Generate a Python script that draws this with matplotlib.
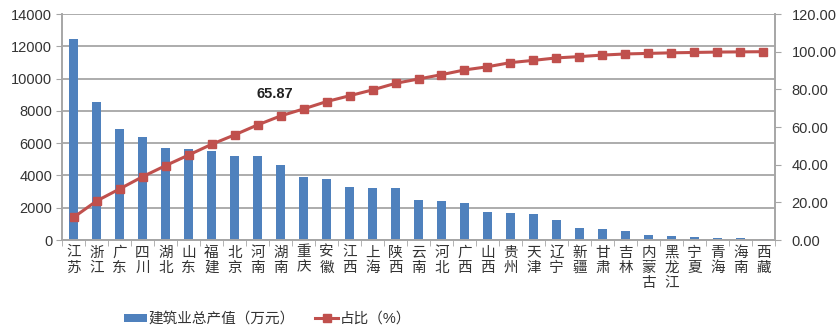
import matplotlib.pyplot as plt
import numpy as np

plt.rcParams['font.family'] = ['Liberation Sans', 'Noto Sans CJK SC']
plt.rcParams['text.color'] = '#333333'
plt.rcParams['xtick.labelcolor'] = '#333333'
plt.rcParams['ytick.labelcolor'] = '#333333'

provinces = ['江苏', '浙江', '广东', '四川', '湖北', '山东', '福建', '北京', '河南', '湖南',
             '重庆', '安徽', '江西', '上海', '陕西', '云南', '河北', '广西', '山西', '贵州',
             '天津', '辽宁', '新疆', '甘肃', '吉林', '内蒙古', '黑龙江', '宁夏', '青海', '海南', '西藏']
output = [12430, 8570, 6860, 6400, 5680, 5660, 5530, 5225, 5220, 4625,
          3880, 3760, 3280, 3240, 3200, 2460, 2400, 2270, 1735, 1650,
          1630, 1260, 760, 700, 540, 310, 270, 165, 120, 110, 40]
share = [12.0, 20.7, 27.1, 33.6, 39.5, 45.1, 50.8, 55.8, 61.1, 65.87,
         69.6, 73.5, 76.6, 79.7, 83.2, 85.5, 87.8, 90.3, 92.0, 94.2,
         95.4, 96.7, 97.4, 98.2, 98.8, 99.1, 99.4, 99.6, 99.8, 99.9, 100.0]

blue = '#4f81bd'
red = '#c0504d'
grey = '#a6a6a6'

fig = plt.figure(figsize=(8.36, 3.34), dpi=100)
ax = fig.add_axes([0.0742, 0.2814, 0.8528, 0.6766])
x = np.arange(len(provinces))

ax.bar(x, output, width=0.4, color=blue, zorder=2, label='建筑业总产值（万元）')
ax.set_ylim(0, 14000)
ax.set_yticks(range(0, 14001, 2000))
ax.set_xlim(-0.5, len(provinces) - 0.5)
ax.yaxis.grid(True, color=grey, linewidth=1.3, zorder=0)
ax.set_axisbelow(True)

# category names stacked vertically, ticks between categories
ax.set_xticks(x)
ax.set_xticklabels(['\n'.join(p) for p in provinces], fontsize=10.5, linespacing=1.1,
                   va='top')
ax.tick_params(axis='x', length=0, pad=4)
ax.set_xticks(np.arange(-0.5, len(provinces)), minor=True)
ax.tick_params(axis='x', which='minor', length=4, color=grey, direction='out')
ax.tick_params(axis='y', length=4, color=grey, labelsize=10.5, pad=3)

for s in ['top']:
    ax.spines[s].set_visible(False)
for s in ['left', 'bottom', 'right']:
    ax.spines[s].set_color(grey)
    ax.spines[s].set_linewidth(1.2)

ax2 = ax.twinx()
ax2.plot(x, share, color=red, linewidth=2.2, marker='s', markersize=6,
         markerfacecolor=red, markeredgecolor=red, zorder=3, label='占比（%）')
ax2.set_ylim(0, 120)
ax2.set_yticks(range(0, 121, 20))
ax2.set_yticklabels([f'{v:.2f}' for v in range(0, 121, 20)])
ax2.tick_params(axis='y', length=4, color=grey, labelsize=10.5, pad=8)
ax2.spines['top'].set_visible(False)
for s in ['left', 'bottom', 'right']:
    ax2.spines[s].set_color(grey)
    ax2.spines[s].set_linewidth(1.2)

i = provinces.index('湖南')
ax2.annotate(f'{share[i]:.2f}', (x[i], share[i]), xytext=(-4, 11),
             textcoords='offset points', ha='center', va='bottom',
             fontsize=10.5, fontweight='bold', color='#222222')

h1, l1 = ax.get_legend_handles_labels()
h2, l2 = ax2.get_legend_handles_labels()
fig.legend(h1 + h2, l1 + l2, loc='center', bbox_to_anchor=(0.32, 0.045), ncol=2,
           frameon=False, fontsize=10.5, handlelength=1.6, handleheight=0.5,
           columnspacing=1.4, handletextpad=0.1)

fig.savefig('out.png', dpi=100)
